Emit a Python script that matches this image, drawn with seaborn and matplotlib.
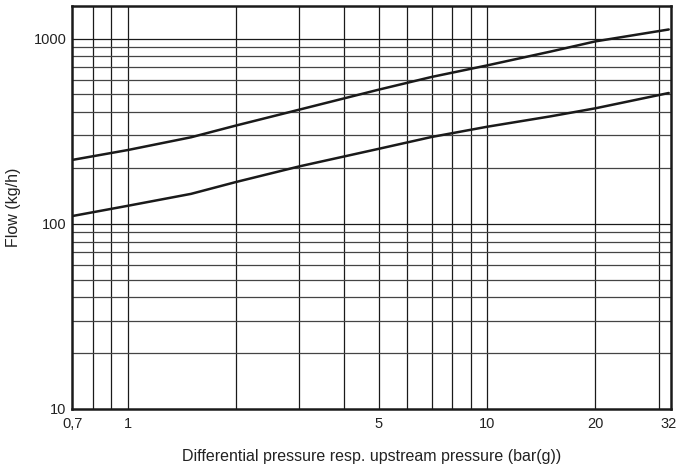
import matplotlib
matplotlib.use("Agg")
import matplotlib.pyplot as plt
import matplotlib.ticker as mticker
import pandas as pd
import seaborn as sns

# readings (bar(g) -> kg/h)
pressure = [0.7, 1, 1.5, 2, 3, 5, 7, 10, 15, 20, 32]
flow_upper = [221, 250, 293, 339, 413, 530, 620, 716, 850, 965, 1119]
flow_lower = [110, 125, 145, 168, 204, 254, 294, 334, 380, 420, 508]

x_ticks = [0.7, 1, 5, 10, 20, 32]
x_labels = ["0,7", "1", "5", "10", "20", "32"]
y_ticks = [10, 100, 1000]
x_grid = [0.8, 0.9, 1, 2, 3, 4, 5, 6, 7, 8, 9, 10, 20, 30]
y_grid = [20, 30, 40, 50, 60, 70, 80, 90, 100, 200, 300, 400, 500, 600, 700, 800, 900, 1000]

df = pd.DataFrame({
    "pressure": pressure * 2,
    "flow": flow_upper + flow_lower,
    "curve": ["upper"] * len(pressure) + ["lower"] * len(pressure),
})

sns.set_style("white")
plt.rcParams["font.family"] = ["Liberation Sans", "DejaVu Sans"]

fig = plt.figure(figsize=(6.8, 4.72), dpi=100)
ax = fig.add_axes([0.106, 0.1335, 0.881, 0.854])

for gx in x_grid:
    ax.axvline(gx, color="#1a1a1a", lw=0.9, zorder=1)
for gy in y_grid:
    ax.axhline(gy, color="#1a1a1a" if gy in (100, 1000) else "#444444", lw=0.9, zorder=1)

sns.lineplot(data=df, x="pressure", y="flow", units="curve", estimator=None,
             color="#1a1a1a", lw=1.8, legend=False, ax=ax, zorder=3)

ax.set_xscale("log")
ax.set_yscale("log")
ax.set_xlim(0.7, 32.5)
ax.set_ylim(10, 1500)

ax.xaxis.set_major_locator(mticker.FixedLocator(x_ticks))
ax.xaxis.set_major_formatter(mticker.FixedFormatter(x_labels))
ax.xaxis.set_minor_locator(mticker.FixedLocator(x_grid))
ax.xaxis.set_minor_formatter(mticker.NullFormatter())
ax.yaxis.set_major_locator(mticker.FixedLocator(y_ticks))
ax.yaxis.set_major_formatter(mticker.FixedFormatter([str(v) for v in y_ticks]))
ax.yaxis.set_minor_locator(mticker.FixedLocator(y_grid))
ax.yaxis.set_minor_formatter(mticker.NullFormatter())

ax.tick_params(axis="both", which="major", direction="in", length=4, width=1.6,
               labelsize=10.5, color="#1a1a1a", labelcolor="#222222")
ax.tick_params(axis="both", which="minor", direction="in", length=3, width=1.4, color="#1a1a1a")
ax.tick_params(axis="x", which="major", pad=6)
ax.tick_params(axis="y", which="major", pad=4)

for s in ax.spines.values():
    s.set_color("#1a1a1a")
    s.set_linewidth(1.8)

ax.set_xlabel("Differential pressure resp. upstream pressure (bar(g))", fontsize=11.5,
              color="#222222", labelpad=13)
ax.set_ylabel("Flow (kg/h)", fontsize=11.5, color="#222222", labelpad=9)

fig.savefig("out.png", dpi=100)
